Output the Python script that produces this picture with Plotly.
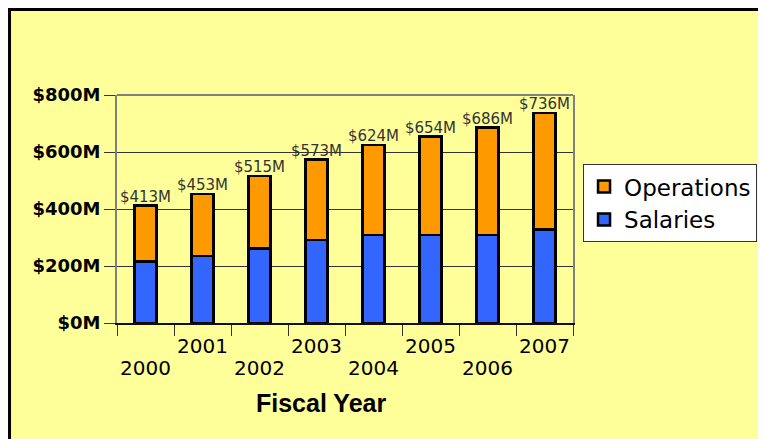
import plotly.graph_objects as go

# ---- data ----
years = ["2000", "2001", "2002", "2003", "2004", "2005", "2006", "2007"]
salaries = [215, 235, 262, 291, 308, 308, 308, 328]
operations = [198, 218, 253, 282, 316, 346, 378, 408]
totals = [413, 453, 515, 573, 624, 654, 686, 736]
total_labels = [f"${t}M" for t in totals]
y_tickvals = [0, 200, 400, 600, 800]
y_ticktext = ["$0M", "$200M", "$400M", "$600M", "$800M"]

BAR_LINE = dict(color="black", width=2.5)

fig = go.Figure()
fig.add_trace(go.Bar(name="Salaries", x=years, y=salaries, width=0.38,
                     marker=dict(color="#3366FF", line=BAR_LINE)))
fig.add_trace(go.Bar(name="Operations", x=years, y=operations, width=0.38,
                     marker=dict(color="#FF9900", line=BAR_LINE)))
fig.add_trace(go.Scatter(x=years, y=totals, mode="text", text=total_labels,
                         textposition="top center", showlegend=False,
                         cliponaxis=False, hoverinfo="skip",
                         textfont=dict(family="DejaVu Sans", size=15, color="#333333")))

# staggered year labels (category axis: annotation x = category serial number)
year_annotations = [
    dict(text=y, x=i, xref="x", y=0, yref="y", xanchor="center", yanchor="middle",
         yshift=(-23 if i % 2 else -45), showarrow=False,
         font=dict(family="DejaVu Sans", size=20, color="black"))
    for i, y in enumerate(years)
]

fig.update_layout(
    width=766, height=439,
    barmode="stack",
    margin=dict(l=109, r=201, t=87, b=124),
    paper_bgcolor="white",
    plot_bgcolor="#C0C0C0",
    font=dict(family="DejaVu Sans", color="black"),
    showlegend=True,
    legend=dict(x=1.022, y=0.697, xanchor="left", yanchor="top",
                bgcolor="white", bordercolor="#333333", borderwidth=1,
                font=dict(family="DejaVu Sans", size=23, color="black"),
                traceorder="reversed"),
    shapes=[
        dict(type="rect", xref="paper", yref="paper",
             x0=-0.2357, x1=1.8, y0=-0.8, y1=1.375,
             fillcolor="#FFFF99", line=dict(color="black", width=3),
             layer="below"),
        dict(type="line", xref="paper", yref="paper",
             x0=0, x1=1, y0=1, y1=1,
             line=dict(color="#808080", width=2), layer="above"),
    ],
    annotations=year_annotations + [
        dict(text="<b>Fiscal Year</b>", xref="paper", yref="paper",
             x=0.447, y=-0.351, xanchor="center", yanchor="middle",
             showarrow=False,
             font=dict(family="Liberation Sans", size=25, color="black"))],
)

fig.update_xaxes(type="category", range=[-0.5, len(years) - 0.5],
                 tickson="boundaries", ticks="outside",
                 ticklen=11, tickcolor="#333333", tickwidth=1,
                 showticklabels=False, automargin=False,
                 showgrid=False, showline=True, linecolor="#111111",
                 linewidth=1.5, mirror=False)
fig.update_yaxes(range=[0, 800], tickvals=y_tickvals, ticktext=y_ticktext,
                 ticks="outside", ticklen=11, tickcolor="#333333", tickwidth=1,
                 tickfont=dict(family="DejaVu Sans", size=18, color="black", weight="bold"),
                 showgrid=True, gridcolor="#333333", gridwidth=1, zeroline=False,
                 automargin=False,
                 showline=True, linecolor="#808080", linewidth=2, mirror=True)

fig.write_html("out.html")
